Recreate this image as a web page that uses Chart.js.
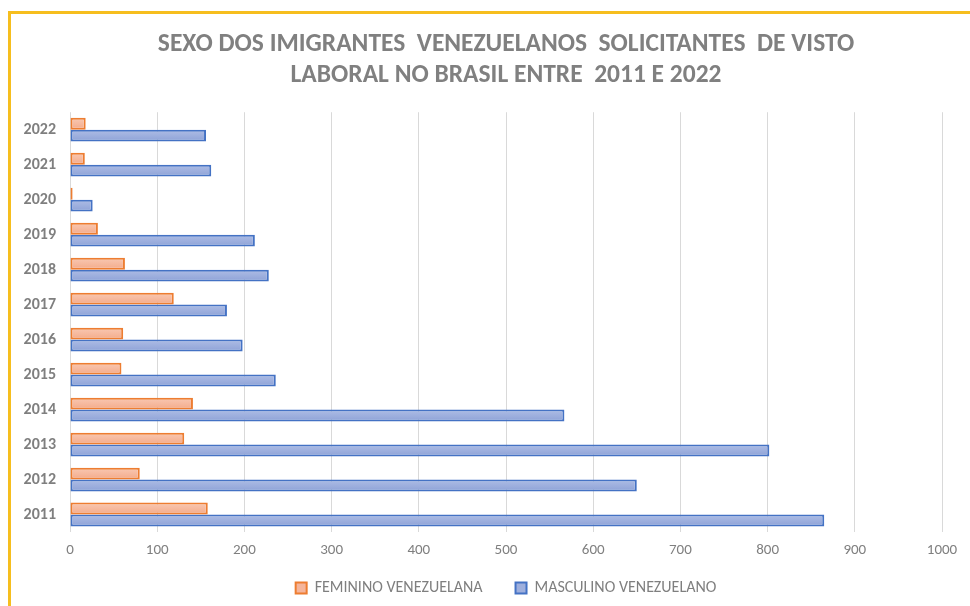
<!DOCTYPE html>
<html>
<head>
<meta charset="utf-8">
<script src="https://cdn.jsdelivr.net/npm/chart.js@4.4.1/dist/chart.umd.min.js"></script>
<style>
  html, body { margin: 0; padding: 0; background: #ffffff; }
  #wrap { position: relative; width: 970px; height: 606px; }
  canvas { display: block; }
</style>
</head>
<body>
<div id="wrap"><canvas id="c" width="970" height="606"></canvas></div>
<script>
// Data (top to bottom as shown: 2022 ... 2011)
const years = ["2022","2021","2020","2019","2018","2017","2016","2015","2014","2013","2012","2011"];
const feminino = [18, 17, 3, 32, 63, 119, 61, 59, 141, 131, 80, 158];
const masculino = [156, 162, 26, 212, 228, 180, 198, 236, 567, 802, 650, 865];
const xTicks = [0, 100, 200, 300, 400, 500, 600, 700, 800, 900, 1000];
const seriesNames = ["FEMININO VENEZUELANA", "MASCULINO VENEZUELANO"];
const titleLines = ["SEXO DOS IMIGRANTES  VENEZUELANOS  SOLICITANTES  DE VISTO", "LABORAL NO BRASIL ENTRE  2011 E 2022"];

const FONT = "Carlito, 'Liberation Sans Narrow', 'Open Sans', sans-serif";
const CAT_PCT = 0.68;

function barGradient(topColor, bottomColor, solid) {
  return function (context) {
    const chart = context.chart;
    const yScale = chart.scales && chart.scales.y;
    if (context.type !== 'data' || !yScale || !chart.chartArea) return solid;
    const center = yScale.getPixelForValue(context.dataIndex);
    const band = yScale.height / years.length;
    const barH = band * CAT_PCT / 2;
    const top = center - barH + context.datasetIndex * barH;
    if (!isFinite(top)) return solid;
    const g = chart.ctx.createLinearGradient(0, top, 0, top + barH);
    g.addColorStop(0, topColor);
    g.addColorStop(1, bottomColor);
    return g;
  };
}

const framePlugin = {
  id: 'frame',
  beforeDraw(chart) {
    const ctx = chart.ctx;
    ctx.save();
    ctx.fillStyle = '#ffffff';
    ctx.fillRect(0, 0, chart.width, chart.height);
    ctx.strokeStyle = '#F6BE1E';
    ctx.lineWidth = 3;
    ctx.beginPath();
    ctx.moveTo(9.5, chart.height);
    ctx.lineTo(9.5, 12.5);
    ctx.lineTo(chart.width, 12.5);
    ctx.stroke();
    ctx.restore();
  }
};

new Chart(document.getElementById('c'), {
  type: 'bar',
  data: {
    labels: years,
    datasets: [
      {
        label: seriesNames[0],
        data: feminino,
        backgroundColor: barGradient('#F9C9B3', '#F3AA8A', '#F5B59B'),
        borderColor: '#ED7D31',
        borderWidth: 2,
        borderSkipped: false,
        categoryPercentage: CAT_PCT,
        barPercentage: 1.0
      },
      {
        label: seriesNames[1],
        data: masculino,
        backgroundColor: barGradient('#AEBDE5', '#8EA2D7', '#9EAFDD'),
        borderColor: '#4472C4',
        borderWidth: 2,
        borderSkipped: false,
        categoryPercentage: CAT_PCT,
        barPercentage: 1.0
      }
    ]
  },
  options: {
    indexAxis: 'y',
    responsive: false,
    animation: false,
    layout: { padding: { left: 12, right: 28, top: 0, bottom: 0 } },
    scales: {
      x: {
        min: 0, max: 1000,
        afterBuildTicks(scale) { scale.ticks = xTicks.map(v => ({ value: v })); },
        afterFit(scale) { scale.height = 28; },
        grid: { color: '#D9D9D9', lineWidth: 1, drawTicks: false },
        border: { display: false },
        ticks: { color: '#7F7F7F', font: { family: FONT, size: 15 }, padding: 9,
                 callback: (v) => String(v) }
      },
      y: {
        grid: { display: false, drawTicks: false },
        border: { display: false },
        afterFit(scale) { scale.width = 58; },
        ticks: { color: '#7F7F7F', font: { family: FONT, size: 16, weight: 'bold' }, padding: 14 }
      }
    },
    plugins: {
      title: {
        display: true,
        fullSize: false,
        text: titleLines,
        color: '#808080',
        font: { family: FONT, size: 25.5, weight: 'bold', lineHeight: 1.22 },
        padding: { top: 29, bottom: 21 }
      },
      legend: {
        position: 'bottom',
        fullSize: false,
        maxHeight: 47,
        title: { display: true, text: ' ', font: { size: 10, lineHeight: 1.2 }, padding: { top: -12.5, bottom: -12.5 } },
        labels: {
          color: '#7F7F7F',
          font: { family: FONT, size: 16 },
          boxWidth: 11,
          boxHeight: 11,
          padding: 33,
          useBorderRadius: false,
          generateLabels(chart) {
            const items = Chart.defaults.plugins.legend.labels.generateLabels(chart);
            const solids = ['#F5B59B', '#9EAFDD'];
            items.forEach((it, i) => { it.fillStyle = solids[i]; });
            return items;
          }
        }
      },
      tooltip: { enabled: false }
    }
  },
  plugins: [framePlugin]
});
</script>
</body>
</html>
